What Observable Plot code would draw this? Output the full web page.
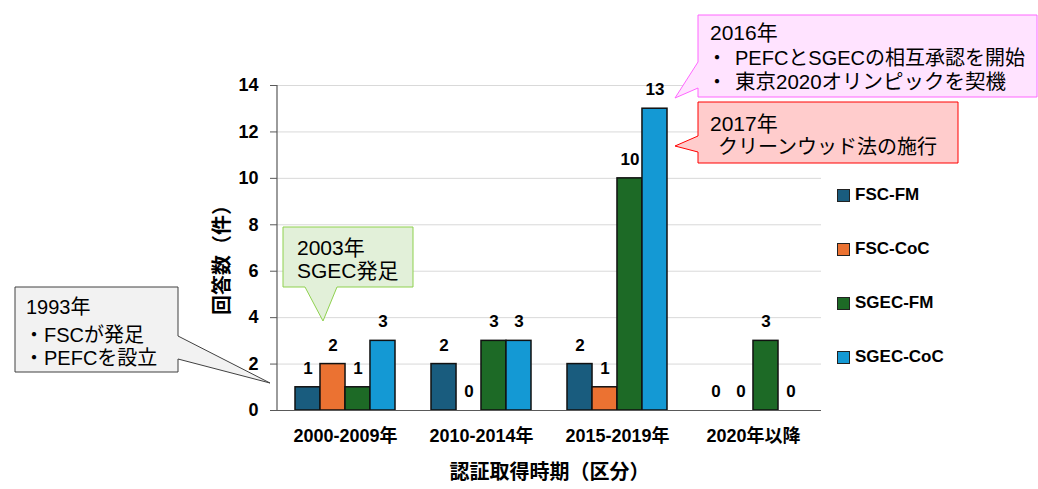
<!DOCTYPE html>
<html><head><meta charset="utf-8">
<script src="https://cdn.jsdelivr.net/npm/d3@7"></script>
<script src="https://cdn.jsdelivr.net/npm/@observablehq/plot@0.6"></script>
<style>
body{margin:0;background:#fff;}
#wrap{position:relative;width:1038px;height:489px;overflow:hidden;}
#wrap svg{position:absolute;left:0;top:0;}
#legend{position:absolute;left:837px;top:184px;font-family:'Liberation Sans','Noto Sans CJK JP',sans-serif;font-weight:bold;font-size:17px;color:#000;}
#legend .it{display:flex;align-items:center;height:22px;margin-bottom:32px;}
#legend .sw{width:11px;height:11px;border:1px solid #222;margin-right:5px;}
</style></head>
<body><div id="wrap"></div>
<script>
const categories = ["2000-2009年","2010-2014年","2015-2019年","2020年以降"];
const seriesNames = ["FSC-FM","FSC-CoC","SGEC-FM","SGEC-CoC"];
const fscFM   = [1,2,2,0];
const fscCoC  = [2,0,1,0];
const sgecFM  = [1,3,10,3];
const sgecCoC = [3,3,13,0];
const seriesColors = ["#195C7E","#EB7232","#1D6A26","#1499D4"];
const yTicks = [0,2,4,6,8,10,12,14];
const yTitle = "回答数（件）";
const xTitle = "認証取得時期（区分）";

const allSeries = [fscFM, fscCoC, sgecFM, sgecCoC];
const W = 1038, H = 489, ML = 277, MR = 217, MT = 85, MB = 79;
const padIn = 0.265;
const step = (W - ML - MR) / categories.length;
const barW = step * (1 - padIn) / seriesNames.length;
const latin = "'Liberation Sans','Noto Sans CJK JP',sans-serif";

const marks = [Plot.gridY(yTicks, {stroke:"#d9d9d9", strokeOpacity:1})];
allSeries.forEach((vals, i) => {
  const data = categories.map((c, j) => ({cat:c, v:vals[j]}));
  marks.push(Plot.barY(data.filter(d => d.v > 0), {
    x:"cat", y:"v", fill: seriesColors[i], stroke:"#111", strokeWidth:1.5,
    insetLeft: i*barW, insetRight: (seriesNames.length-1-i)*barW
  }));
  marks.push(Plot.text(data, {
    x:"cat", y:"v", text: d => String(d.v), dx: (i - 1.5)*barW, dy:-19,
    fontWeight:"bold", fontSize:17, fill:"#000", fontFamily: latin
  }));
});
marks.push(Plot.ruleY([0], {stroke:"#595959", strokeWidth:1.2}));
marks.push((index, scales, values, dim) => {
  const l = document.createElementNS("http://www.w3.org/2000/svg","line");
  l.setAttribute("x1", dim.marginLeft); l.setAttribute("x2", dim.marginLeft);
  l.setAttribute("y1", dim.marginTop); l.setAttribute("y2", dim.height - dim.marginBottom);
  l.setAttribute("stroke", "#595959"); l.setAttribute("stroke-width", 1.2);
  return l;
});
marks.push(Plot.axisY({ticks: yTicks, tickSize:7, tickPadding:12, fontSize:18, fontWeight:"bold", label:null, stroke:"#595959", fill:"#000", fontFamily: latin}));
marks.push(Plot.text(categories, {x: d => d, frameAnchor:"bottom", dy:31, fontSize:18, fontWeight:"bold", fill:"#000", fontFamily: latin}));
marks.push(Plot.text([xTitle], {frameAnchor:"bottom", dy:68, fontSize:20, fontWeight:"bold", fill:"#000"}));
marks.push(Plot.text([yTitle], {frameAnchor:"left", textAnchor:"middle", dx:-55, dy:7, rotate:-90, fontSize:20, fontWeight:"bold", fill:"#000"}));

const chart = Plot.plot({
  width: W, height: H, marginLeft: ML, marginRight: MR, marginTop: MT, marginBottom: MB,
  style: {fontFamily: "'Noto Sans CJK JP',sans-serif", background:"#fff", overflow:"visible"},
  x: {domain: categories, paddingInner: padIn, paddingOuter: padIn/2, axis: null},
  y: {domain: [0,14], axis: null},
  marks
});
const wrap = document.getElementById("wrap");
wrap.appendChild(chart);

// legend
const lg = document.createElement("div"); lg.id = "legend";
seriesNames.forEach((s, i) => {
  const it = document.createElement("div"); it.className = "it";
  const sw = document.createElement("div"); sw.className = "sw"; sw.style.background = seriesColors[i];
  const t = document.createElement("span"); t.textContent = s;
  it.appendChild(sw); it.appendChild(t); lg.appendChild(it);
});
wrap.appendChild(lg);

// callouts overlay
const ov = d3.select(wrap).append("svg").attr("width", W).attr("height", H)
  .style("font-family", "'Liberation Sans','Noto Sans CJK JP',sans-serif");
const callouts = [
  {path:"M15,287H178V336L270,383L178,359V372H15Z", fill:"#f2f2f2", stroke:"#404040",
   lines:[["1993年",26,307,20],["・FSCが発足",24,335,20],["・PEFCを設立",24,358,20]]},
  {path:"M283,227H413V287H337L323,321L305,287H283Z", fill:"#e2f0d9", stroke:"#8fd14f",
   lines:[["2003年",297,248,21],["SGEC発足",297,271,21]]},
  {path:"M698,15H1037V97H698V88L675,98L698,62Z", fill:"#ffe3ff", stroke:"#ff66ff",
   lines:[["2016年",710,33,21],["・",707,58,20],["PEFCとSGECの相互承認を開始",735,58,20],["・",707,82,20],["東京2020オリンピックを契機",735,82,20.5]]},
  {path:"M698,102H958V163H698V152L675,146L698,136Z", fill:"#ffcccc", stroke:"#ff0000",
   lines:[["2017年",710,124,21],["クリーンウッド法の施行",718,147,20]]}
];
callouts.forEach(c => {
  ov.append("path").attr("d", c.path).attr("fill", c.fill).attr("stroke", c.stroke).attr("stroke-width", 1);
  c.lines.forEach(([t,x,y,fs]) => ov.append("text").attr("x", x).attr("y", y).attr("dy", "0.35em")
    .attr("font-size", fs).attr("fill", "#000").text(t));
});
</script></body></html>
